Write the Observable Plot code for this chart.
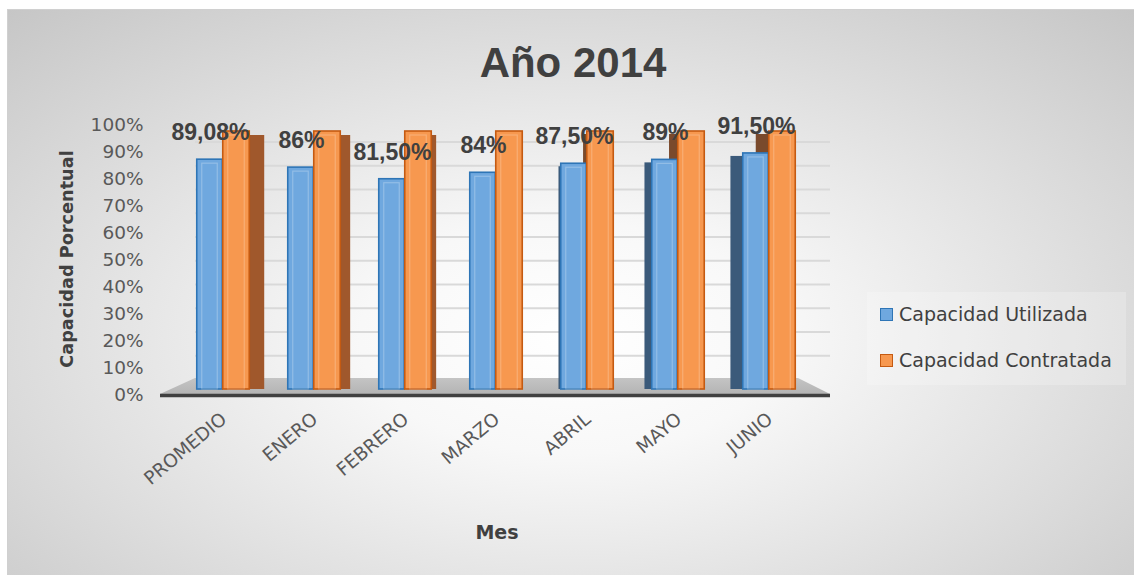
<!DOCTYPE html>
<html>
<head>
<meta charset="utf-8">
<script src="https://cdn.jsdelivr.net/npm/d3@7"></script>
<script src="https://cdn.jsdelivr.net/npm/@observablehq/plot@0.6"></script>
<style>
  html, body { margin: 0; padding: 0; background: #ffffff; }
  #chart { position: relative; width: 1134px; height: 575px; overflow: hidden; }
  #frame {
    position: absolute; left: 7px; top: 9px; right: 0; bottom: 0;
    border-left: 1px solid #d0d0d0; border-top: 1px solid #d0d0d0;
    background: radial-gradient(ellipse 75% 82% at 50% 58%, #ffffff 0%, #f8f8f8 25%, #c4c4c4 100%);
  }
  .title {
    position: absolute; left: 273px; width: 600px; top: 42px; text-align: center;
    font-family: "Liberation Sans", Arial, sans-serif; font-weight: bold; font-size: 42px;
    line-height: 42px; color: #404040; white-space: nowrap;
  }
  .ytitle {
    position: absolute; left: 67px; top: 259px; transform: translate(-50%, -50%) rotate(-90deg);
    font-family: "DejaVu Sans", sans-serif; font-weight: bold; font-size: 17.7px; color: #404040;
    white-space: nowrap; line-height: 18px;
  }
  .xtitle {
    position: absolute; left: 497px; top: 532px; transform: translate(-50%, -50%);
    font-family: "DejaVu Sans", sans-serif; font-weight: bold; font-size: 19px; color: #404040;
    white-space: nowrap; line-height: 20px;
  }
  .legend {
    position: absolute; left: 867px; top: 292px; width: 259px; height: 93px;
    background: rgba(255,255,255,0.22);
  }
  .legend .row { position: absolute; left: 13px; height: 22px; display: flex; align-items: center; }
  .legend .sw { width: 11px; height: 11px; border: 1.5px solid; margin-right: 6px; }
  .legend .lab { font-family: "DejaVu Sans", sans-serif; font-size: 19px; color: #404040; white-space: nowrap; line-height: 22px; }
  svg.layer { position: absolute; left: 0; top: 0; }
</style>
</head>
<body>
<div id="chart">
  <div id="frame"></div>
</div>
<script>
// ---- data ----
const months = ["PROMEDIO", "ENERO", "FEBRERO", "MARZO", "ABRIL", "MAYO", "JUNIO"];
const utilizada = [0.8908, 0.86, 0.815, 0.84, 0.875, 0.89, 0.915];
const contratada = [1, 1, 1, 1, 1, 1, 1];
const dataLabels = ["89,08%", "86%", "81,50%", "84%", "87,50%", "89%", "91,50%"];
const seriesNames = ["Capacidad Utilizada", "Capacidad Contratada"];
const yTicks = [0, 0.1, 0.2, 0.3, 0.4, 0.5, 0.6, 0.7, 0.8, 0.9, 1];
const yTickLabels = ["0%", "10%", "20%", "30%", "40%", "50%", "60%", "70%", "80%", "90%", "100%"];
const titleText = "Año 2014";
const yTitle = "Capacidad Porcentual";
const xTitle = "Mes";

const table = months.map((m, i) => ({mes: m, util: utilizada[i], cont: contratada[i], label: dataLabels[i]}));

// ---- styling ----
const W = 1134, H = 575;
const blueFill = "#6fa8df", blueStroke = "#2e75b6", blueSide = "#3b5a7a";
const orangeFill = "#f7984f", orangeStroke = "#c55a11", orangeSide = "#a0582c", orangeSideDark = "#7a4a2c";
const layerStyle = {background: "transparent", overflow: "visible"};

const chart = document.getElementById("chart");

// floor (decoration)
const floorSvg = d3.create("svg").attr("class", "layer").attr("width", W).attr("height", H);
const grad = floorSvg.append("defs").append("linearGradient").attr("id", "floorg").attr("x1", 0).attr("y1", 0).attr("x2", 0).attr("y2", 1);
grad.append("stop").attr("offset", "0%").attr("stop-color", "#c4c4c4");
grad.append("stop").attr("offset", "100%").attr("stop-color", "#b4b4b4");
floorSvg.append("polygon").attr("points", "160,394 195,378 798,378 830,394").attr("fill", "url(#floorg)");

// back wall gridlines
const wall = Plot.plot({
  width: W, height: H,
  marginTop: 141.5, marginBottom: H - 379, marginLeft: 195, marginRight: W - 830,
  y: {domain: [0, 1], axis: null},
  style: layerStyle,
  marks: [
    Plot.ruleY(yTicks.slice(1), {stroke: "#d9d9d9", strokeWidth: 2})
  ]
});
wall.classList.add("layer");

// bars
const bw = 91.5, half = bw / 2;
const vp = 520, k = 0.055;
const sideMarks = [];
months.forEach((m, i) => {
  const rows = table.filter(d => d.mes === m);
  const c = 221 + bw * i;
  if (c + 27 < vp) {
    const d = Math.min(15, k * (vp - (c + 27)));
    sideMarks.push(Plot.barY(rows, {x: "mes", y: "cont", insetLeft: half + 27, insetRight: half - 27 - d, insetTop: 4, fill: orangeSide}));
  } else if (c > vp + 20) {
    const d = Math.min(13, k * ((c - 26) - vp));
    const d2 = Math.min(13, k * (c - vp));
    sideMarks.push(Plot.barY(rows, {x: "mes", y: "util", insetLeft: half - 26 - d, insetRight: half + 26, insetTop: 3, fill: blueSide}));
    sideMarks.push(Plot.barY(rows, {x: "mes", y1: "util", y2: "cont", insetLeft: half - d2, insetRight: half, insetTop: 3, fill: orangeSideDark}));
  }
});

const bars = Plot.plot({
  width: W, height: H,
  marginTop: 131, marginBottom: H - 389, marginLeft: 175.25, marginRight: W - 815.75,
  x: {domain: months, padding: 0, axis: null},
  y: {domain: [0, 1], axis: null},
  style: layerStyle,
  marks: [
    ...sideMarks,
    Plot.barY(table, {x: "mes", y: "util", insetLeft: half - 26, insetRight: half, fill: blueFill, stroke: blueStroke, strokeWidth: 1.6}),
    Plot.barY(table, {x: "mes", y: "util", insetLeft: half - 21, insetRight: half + 5, insetTop: 4, fill: "none", stroke: "#ffffff", strokeOpacity: 0.25, strokeWidth: 1.2}),
    Plot.barY(table, {x: "mes", y: "cont", insetLeft: half, insetRight: half - 27, fill: orangeFill, stroke: orangeStroke, strokeWidth: 1.6}),
    Plot.barY(table, {x: "mes", y: "cont", insetLeft: half + 5, insetRight: half - 22, insetTop: 4, fill: "none", stroke: "#ffffff", strokeOpacity: 0.22, strokeWidth: 1.2}),
    Plot.text(table, {x: "mes", y: "util", text: "label", dx: -12.5, dy: -27, lineAnchor: "middle",
      fontFamily: "Liberation Sans", fontWeight: "bold", fontSize: 23, fill: "#404040"}),
    Plot.text(months, {x: d => d, frameAnchor: "bottom", text: d => d, rotate: -40, textAnchor: "end",
      lineAnchor: "middle", dy: 27, dx: 1, fontFamily: "DejaVu Sans", fontSize: 18.5, fill: "#595959"})
  ]
});
bars.classList.add("layer");

// y-axis labels and baseline
const axis = Plot.plot({
  width: W, height: H,
  marginTop: 125, marginBottom: H - 395, marginLeft: 160, marginRight: W - 830,
  y: {domain: [0, 1], axis: null},
  style: layerStyle,
  marks: [
    Plot.ruleY([0], {stroke: "#404040", strokeWidth: 3.5}),
    Plot.text(yTicks, {y: d => d, text: (d, i) => yTickLabels[i], frameAnchor: "left", textAnchor: "end", dx: -17,
      lineAnchor: "middle", fontFamily: "DejaVu Sans", fontSize: 18.5, fill: "#595959"})
  ]
});
axis.classList.add("layer");

chart.appendChild(floorSvg.node());
chart.appendChild(wall);
chart.appendChild(bars);
chart.appendChild(axis);

// texts
const t = document.createElement("div"); t.className = "title"; t.textContent = titleText; chart.appendChild(t);
const yt = document.createElement("div"); yt.className = "ytitle"; yt.textContent = yTitle; chart.appendChild(yt);
const xt = document.createElement("div"); xt.className = "xtitle"; xt.textContent = xTitle; chart.appendChild(xt);

// legend
const lg = document.createElement("div"); lg.className = "legend";
const swatches = [[blueFill, blueStroke], [orangeFill, orangeStroke]];
seriesNames.forEach((name, i) => {
  const row = document.createElement("div"); row.className = "row";
  row.style.top = (11 + i * 46) + "px";
  const sw = document.createElement("div"); sw.className = "sw";
  sw.style.background = swatches[i][0]; sw.style.borderColor = swatches[i][1];
  const lab = document.createElement("span"); lab.className = "lab"; lab.textContent = name;
  row.appendChild(sw); row.appendChild(lab); lg.appendChild(row);
});
chart.appendChild(lg);
</script>
</body>
</html>
